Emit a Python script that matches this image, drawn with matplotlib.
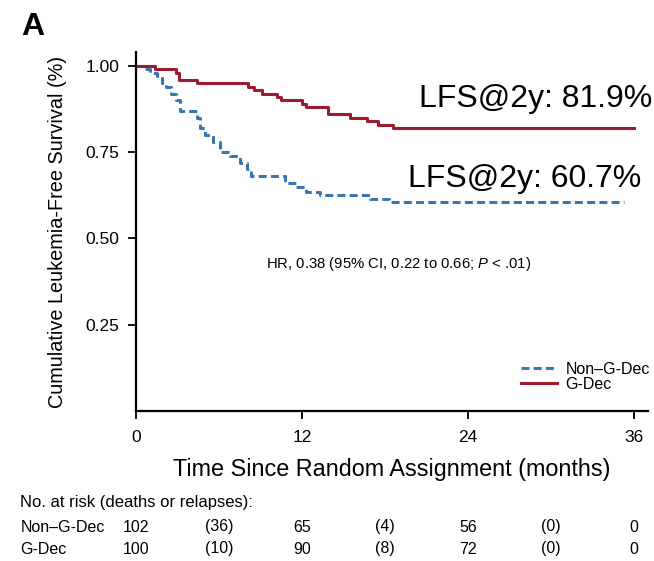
import matplotlib
matplotlib.use("Agg")
import matplotlib.pyplot as plt
from matplotlib.transforms import blended_transform_factory

plt.rcParams['font.family'] = ['Liberation Sans', 'DejaVu Sans']
plt.rcParams['mathtext.fontset'] = 'custom'
plt.rcParams['mathtext.rm'] = 'Liberation Sans'
plt.rcParams['mathtext.it'] = 'Liberation Sans:italic'

# Kaplan-Meier steps
non_gdec_t = [0, 0.6, 1.0, 1.5, 1.9, 2.2, 2.5, 2.9, 3.2, 4.4, 4.6, 5.0, 5.6, 6.1,
              6.8, 7.5, 8.0, 8.3, 10.8, 11.6, 12.3, 13.3, 16.9, 18.3, 35.3]
non_gdec_s = [1.00, 0.99, 0.98, 0.97, 0.95, 0.94, 0.92, 0.90, 0.87, 0.85, 0.82, 0.80, 0.78, 0.75,
              0.74, 0.72, 0.70, 0.68, 0.66, 0.65, 0.635, 0.625, 0.615, 0.607, 0.607]

gdec_t = [0, 1.4, 2.9, 3.1, 4.4, 8.1, 8.5, 9.1, 10.2, 10.5, 12.0, 12.3, 13.9,
          15.5, 16.7, 17.5, 18.6, 36.0]
gdec_s = [1.00, 0.99, 0.98, 0.96, 0.95, 0.94, 0.93, 0.92, 0.91, 0.90, 0.89, 0.88, 0.86,
          0.85, 0.84, 0.83, 0.819, 0.819]

xticks = [0, 12, 24, 36]
yticks = [0.25, 0.50, 0.75, 1.00]

risk_times = [0, 6, 12, 18, 24, 30, 36]
risk_non_gdec = ['102', '(36)', '65', '(4)', '56', '(0)', '0']
risk_gdec = ['100', '(10)', '90', '(8)', '72', '(0)', '0']

red = '#9b1b31'
blue = '#3a76ad'

fig = plt.figure(figsize=(6.54, 5.61), dpi=100)
ax = fig.add_axes([0.208, 0.2674, 0.7825, 0.6396])

ax.step(non_gdec_t, non_gdec_s, where='post', color=blue, lw=2.2,
        linestyle=(0, (2.6, 1.4)), label='Non\u2013G-Dec')
ax.step(gdec_t, gdec_s, where='post', color=red, lw=2.2, label='G-Dec')

ax.set_xlim(0, 37)
ax.set_ylim(0, 1.04)
ax.set_xticks(xticks)
ax.set_yticks(yticks)
ax.set_yticklabels(['%.2f' % v for v in yticks])
ax.tick_params(labelsize=12.5, length=6, width=1.3, direction='out')
ax.tick_params(axis='x', pad=8)
ax.tick_params(axis='y', pad=6)
for side in ['top', 'right']:
    ax.spines[side].set_visible(False)
for side in ['left', 'bottom']:
    ax.spines[side].set_linewidth(1.6)

ax.set_xlabel('Time Since Random Assignment (months)', fontsize=16.8, labelpad=9)
ax.set_ylabel('Cumulative Leukemia-Free Survival (%)', fontsize=14.3, labelpad=13)

ax.legend(loc='center right', bbox_to_anchor=(1.004, 0.096), frameon=False, fontsize=11.5,
          handlelength=2.3, handletextpad=0.5, labelspacing=0.0, borderaxespad=0,
          borderpad=0)

ax.text(37.35, 0.904, 'LFS@2y: 81.9%', fontsize=23, ha='right', va='center')
ax.text(36.55, 0.672, 'LFS@2y: 60.7%', fontsize=23, ha='right', va='center')
ax.text(19.0, 0.425, r'HR, 0.38 (95% CI, 0.22 to 0.66; $\mathit{P}$ < .01)',
        fontsize=10.7, ha='center', va='center')

fig.text(0.033, 1 - 27 / 561, 'A', fontsize=23, fontweight='bold', ha='left', va='center')

# numbers at risk table
trans = blended_transform_factory(ax.transData, fig.transFigure)
fig.text(0.031, 1 - 502 / 561, 'No. at risk (deaths or relapses):', fontsize=12,
         ha='left', va='center')
fig.text(0.031, 1 - 527 / 561, 'Non\u2013G-Dec', fontsize=11.5, ha='left', va='center')
fig.text(0.031, 1 - 549 / 561, 'G-Dec', fontsize=11.5, ha='left', va='center')
for t, a, b in zip(risk_times, risk_non_gdec, risk_gdec):
    ax.text(t, 1 - 527 / 561, a, transform=trans, fontsize=11.5, ha='center', va='center')
    ax.text(t, 1 - 549 / 561, b, transform=trans, fontsize=11.5, ha='center', va='center')

fig.savefig('out.png', dpi=100)
